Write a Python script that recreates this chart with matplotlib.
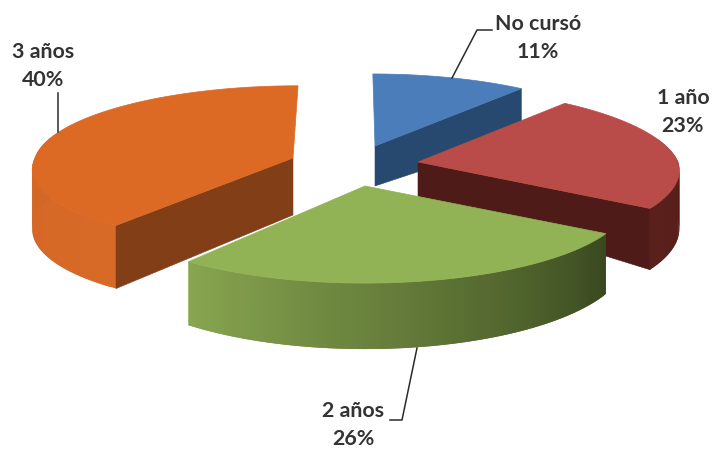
import numpy as np
import matplotlib
matplotlib.use("Agg")
import matplotlib.pyplot as plt
from matplotlib.patches import Polygon

categories = ["No cursó", "1 año", "2 años", "3 años"]
values = [11, 23, 26, 40]
top_colors = ["#4b7dba", "#b94c48", "#91b255", "#dc6924"]
cut_colors = ["#27496f", "#4e1b18", "#4e5f2d", "#813e17"]
wall_start = ["#27496f", "#4e1b18", "#39481f", "#d86a28"]
wall_end = ["#27496f", "#5a201c", "#88a650", "#cd6322"]

apexes = [(375, 146), (418, 162), (365, 186), (293, 158)]
apex_depths = [40, 36, 48, 57]
visible_cut = [-1, -1, None, 0]
label_pos = [(538, 38), (683, 112), (353, 425), (43, 66)]
leaders = [[(452, 78), (477, 30), (492, 30)],
           [],
           [(417, 348), (402, 420), (390, 420)],
           [(58, 93), (58, 132)]]

# per-slice projection: half-width, half-height, perspective, extrusion, shear
widths = [262, 260, 260, 258]
heights = [84, 82, 81, 78]
persp = [0.166, 0.10, 0.166, 0.08]
depths = [55, 58, 55, 59]
shear_back = [0.03, 0.12, 0.0, -0.07]
shear_front = [0.0, 0.0, 0.0, -0.22]
W, H = 713, 450


def project(i, th):
    s = 1.0 / (1.0 + persp[i] * np.cos(th))
    dy = -heights[i] * np.cos(th) * s
    shear = np.where(dy < 0, shear_back[i], shear_front[i])
    x = apexes[i][0] + widths[i] * np.sin(th) * s + shear * dy
    y = apexes[i][1] + dy
    return x, y, depths[i] * s


def lerp(c0, c1, t):
    a = np.array(matplotlib.colors.to_rgb(c0))
    b = np.array(matplotlib.colors.to_rgb(c1))
    return tuple(a + (b - a) * t)


fig = plt.figure(figsize=(W / 100, H / 100), dpi=100)
ax = fig.add_axes([0, 0, 1, 1])
ax.set_xlim(0, W)
ax.set_ylim(H, 0)
ax.axis("off")

order = [0, 1, 3, 2]
edges = np.cumsum([0] + values) / sum(values) * 2 * np.pi
for i in order:
    apex, d0 = apexes[i], apex_depths[i]
    th = np.linspace(edges[i], edges[i + 1], 90)
    x, y, d = project(i, th)
    z = 2 + order.index(i) * 3
    n = len(th)
    for j in range(n - 1):
        if np.cos(th[j]) > 0.3:   # back of the rim: hidden behind the top face
            continue
        col = lerp(wall_start[i], wall_end[i], j / (n - 2))
        k = min(j + 2, n - 1)
        ax.add_patch(Polygon([(x[j], y[j]), (x[k], y[k]),
                              (x[k], y[k] + d[k]), (x[j], y[j] + d[j])],
                             closed=True, fc=col, ec="none", lw=0, zorder=z))
    j = visible_cut[i]
    if j is not None:
        ax.add_patch(Polygon([apex, (x[j], y[j]), (x[j], y[j] + d[j]),
                              (apex[0], apex[1] + d0)],
                             closed=True, fc=cut_colors[i], ec=cut_colors[i],
                             lw=0.4, zorder=z + 1))
    ax.add_patch(Polygon([apex] + list(zip(x, y)), closed=True,
                         fc=top_colors[i], ec=top_colors[i], lw=0.5, zorder=z + 2))

for cat, val, pos, pts in zip(categories, values, label_pos, leaders):
    ax.text(pos[0], pos[1], f"{cat}\n{val}%", ha="center", va="center",
            family="Lato", weight="bold", fontsize=15.4, color="#333333",
            linespacing=1.5, zorder=30)
    if pts:
        ax.plot(*zip(*pts), color="#2b2b2b", lw=1.1, zorder=30)

fig.savefig("out.png", dpi=100)
